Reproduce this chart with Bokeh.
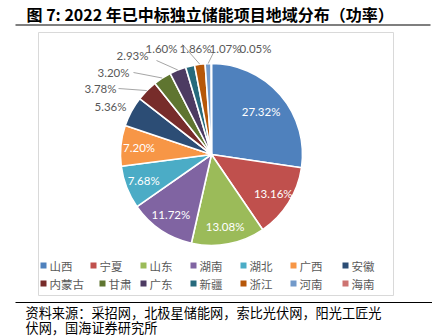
import math
from bokeh.plotting import figure
from bokeh.models import ColumnDataSource
from bokeh.core.properties import value
from bokeh.embed import file_html
from bokeh.resources import INLINE

# ---- data ----
regions = ["山西", "宁夏", "山东", "湖南", "湖北", "广西", "安徽",
           "内蒙古", "甘肃", "广东", "新疆", "浙江", "河南", "海南"]
shares = [27.32, 13.16, 13.08, 11.72, 7.68, 7.20, 5.36,
          3.78, 3.20, 2.93, 1.60, 1.86, 1.07, 0.05]
colors = ["#4F81BD", "#C0504D", "#9BBB59", "#8064A2", "#4BACC6", "#F79646", "#2C4D75",
          "#772C2A", "#5F7530", "#4D3B62", "#276A7C", "#B65708", "#729ACA", "#CD7371"]
title_text = "图 7: 2022 年已中标独立储能项目地域分布（功率）"
source_lines = ["资料来源：采招网，北极星储能网，索比光伏网，阳光工匠光",
                "伏网，国海证券研究所"]

# ---- layout (pixels -> data units; pie radius = 1 unit) ----
W, H = 432, 336
CX, CY, R = 211.0, 154.0, 91.0


def X(px):
    return (px - CX) / R


def Y(py):
    return (CY - py) / R


p = figure(width=W, height=H, x_range=(X(0), X(W)), y_range=(Y(H), Y(0)),
           min_border=0, toolbar_location=None, output_backend="svg",
           x_axis_type=None, y_axis_type=None)
p.grid.visible = False
p.outline_line_color = None
p.background_fill_color = "white"
p.border_fill_color = "white"

# title + rules
p.text(x=[X(26)], y=[Y(13)], text=[title_text], text_font=value("Noto Sans CJK SC"),
       text_font_style="bold", text_font_size="16px", text_color="#000000",
       text_baseline="middle", text_align="left")
p.segment(x0=[X(15)], y0=[Y(24.5)], x1=[X(430)], y1=[Y(24.5)], line_color="#7f7f7f", line_width=2)
p.segment(x0=[X(15)], y0=[Y(302)], x1=[X(432)], y1=[Y(302)], line_color="#000000", line_width=1)

# chart frame
p.quad(left=[X(38)], right=[X(393)], top=[Y(32)], bottom=[Y(295)],
       fill_color="white", line_color="#d9d9d9", line_width=1)

# ---- pie ----
total = sum(shares)
starts, ends, mids = [], [], []
cum = 0.0
for s in shares:
    a0 = cum / total * 2 * math.pi
    cum += s
    a1 = cum / total * 2 * math.pi
    starts.append(math.pi / 2 - a0)
    ends.append(math.pi / 2 - a1)
    mids.append((a0 + a1) / 2)  # clockwise from top

src = ColumnDataSource(dict(start=starts, end=ends, color=colors, region=regions))
p.wedge(x=0, y=0, radius=1, start_angle="start", end_angle="end", direction="clock",
        fill_color="color", line_color="white", line_width=1.6, source=src)

labels = ["%.2f%%" % s for s in shares]

# inside labels
ix, iy, it = [], [], []
for s, m, lab in zip(shares, mids, labels):
    if s >= 7:
        rr = 0.72 if s > 20 else 0.8
        ix.append(rr * math.sin(m))
        iy.append(rr * math.cos(m))
        it.append(lab)
p.text(x=ix, y=iy, text=it, text_font=value("Lato"), text_font_size="11.5px",
       text_color="white", text_align="center", text_baseline="middle")

# outside labels (pixel placement of label boxes, leader ends at slice edge)
outside_pos = {"安徽": (110, 106, None), "内蒙古": (100, 88, (118, 88)),
               "甘肃": (113, 72, (133, 72)), "广东": (132, 55, (156, 60)),
               "新疆": (161, 48, None), "浙江": (195, 48, (182, 44)),
               "河南": (225, 48, (213, 52)), "海南": (255, 48, None)}
ox, oy, ot = [], [], []
lx0, ly0, lx1, ly1 = [], [], [], []
for reg, m, lab in zip(regions, mids, labels):
    if reg in outside_pos:
        px, py, lead = outside_pos[reg]
        ox.append(X(px))
        oy.append(Y(py))
        ot.append(lab)
        if lead is not None:
            lx0.append(X(lead[0]))
            ly0.append(Y(lead[1]))
            lx1.append(1.0 * math.sin(m))
            ly1.append(1.0 * math.cos(m))
p.segment(x0=lx0, y0=ly0, x1=lx1, y1=ly1, line_color="#a6a6a6", line_width=1)
p.text(x=ox, y=oy, text=ot, text_font=value("Lato"), text_font_size="11.5px",
       text_color="#595959", text_align="center", text_baseline="middle")

# ---- legend ----
leg_x = [43, 93, 143, 193, 243, 293, 345,
         43, 102, 143, 193, 243, 293, 345]
leg_y = [265] * 7 + [283] * 7
p.scatter(x=[X(v) for v in leg_x], y=[Y(v) for v in leg_y], marker="square", size=6,
          fill_color=colors, line_color=None)
p.text(x=[X(v + 6) for v in leg_x], y=[Y(v) for v in leg_y], text=regions,
       text_font=value("Noto Sans CJK SC"), text_font_size="11.5px", text_color="#595959",
       text_align="left", text_baseline="middle")

# ---- source ----
p.text(x=[X(25), X(25)], y=[Y(312), Y(327)], text=source_lines,
       text_font=value("Noto Sans CJK SC"), text_font_size="13.2px", text_color="#000000",
       text_align="left", text_baseline="middle")

open("out.html", "w").write(file_html(p, INLINE))
